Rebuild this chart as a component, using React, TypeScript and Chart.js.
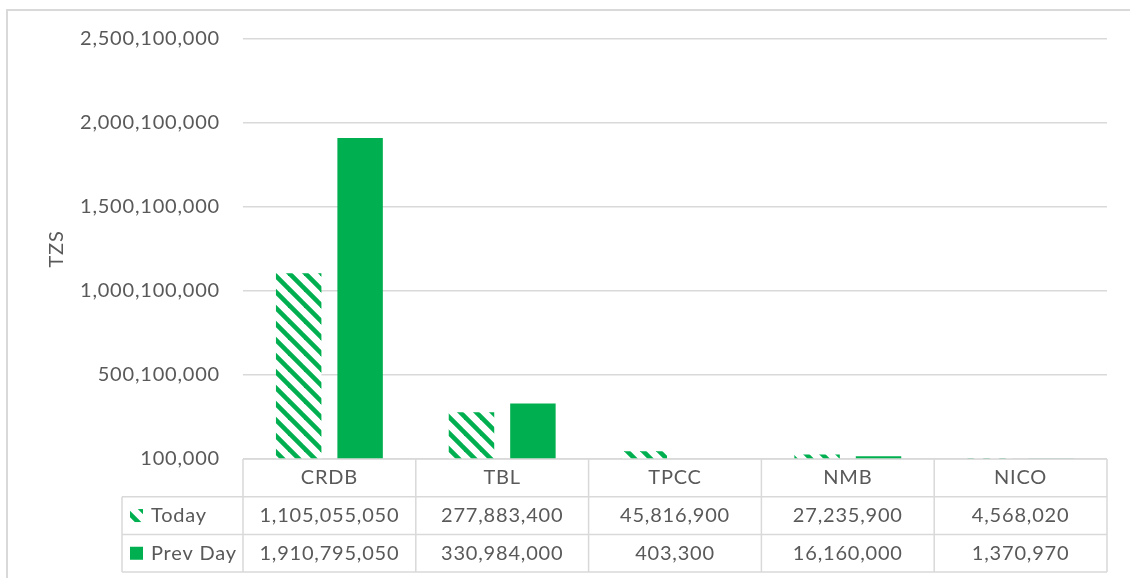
import React, { useEffect, useRef } from "react";
import { Chart, registerables } from "chart.js";

Chart.register(...registerables);

const categories = ["CRDB", "TBL", "TPCC", "NMB", "NICO"];
const seriesLabels = ["Today", "Prev Day"];
const todayValues = [1105055050, 277883400, 45816900, 27235900, 4568020];
const prevDayValues = [1910795050, 330984000, 403300, 16160000, 1370970];
const yTickValues = [100000, 500100000, 1000100000, 1500100000, 2000100000, 2500100000];

const GREEN = "#00B050";
const TEXT = "#595959";
const LINE = "#d9d9d9";
const FONT_FAMILY = "Lato, 'Open Sans', sans-serif";
const FONT_SIZE = 20;
const LETTER_SPACING = "0.8px";

function fmt(v: number) {
  return v.toLocaleString("en-US");
}

function makeHatch(): CanvasPattern | string {
  const c = document.createElement("canvas");
  c.width = 16;
  c.height = 16;
  const g = c.getContext("2d");
  if (!g) return GREEN;
  g.fillStyle = "#ffffff";
  g.fillRect(0, 0, 16, 16);
  g.strokeStyle = GREEN;
  g.lineWidth = 4.6;
  for (const off of [-16, 0, 16]) {
    g.beginPath();
    g.moveTo(off - 4, -4);
    g.lineTo(off + 20, 20);
    g.stroke();
  }
  const p = g.createPattern(c, "repeat");
  return p || GREEN;
}

export default function App() {
  const ref = useRef<HTMLCanvasElement | null>(null);

  useEffect(() => {
    const canvas = ref.current;
    if (!canvas) return;
    const hatch = makeHatch();
    const seriesValues = [todayValues, prevDayValues];
    const seriesFills = [hatch, GREEN];

    const frame = {
      id: "outerFrame",
      beforeDraw(chart: any) {
        const { ctx } = chart;
        ctx.save();
        ctx.fillStyle = "#ffffff";
        ctx.fillRect(0, 0, chart.width, chart.height);
        ctx.strokeStyle = LINE;
        ctx.lineWidth = 2;
        ctx.strokeRect(7, 10, chart.width + 20, chart.height + 40);
        ctx.restore();
        (ctx as any).letterSpacing = LETTER_SPACING;
      },
    };

    const dataTable = {
      id: "dataTable",
      afterDraw(chart: any) {
        const { ctx, chartArea } = chart;
        const n = categories.length;
        const colW = (chartArea.right - chartArea.left) / n;
        const top = chartArea.bottom;
        const rowH = 37.7;
        const legendLeft = 122;
        const r1 = top + rowH;
        const r2 = top + rowH * 2;
        const r3 = top + rowH * 3;
        ctx.save();
        ctx.strokeStyle = LINE;
        ctx.lineWidth = 1.5;
        ctx.beginPath();
        ctx.moveTo(chartArea.left, top);
        ctx.lineTo(chartArea.right, top);
        for (const y of [r1, r2, r3]) {
          ctx.moveTo(legendLeft, y);
          ctx.lineTo(chartArea.right, y);
        }
        ctx.moveTo(legendLeft, r1);
        ctx.lineTo(legendLeft, r3);
        for (let i = 0; i <= n; i++) {
          const x = chartArea.left + i * colW;
          ctx.moveTo(x, top);
          ctx.lineTo(x, r3);
        }
        ctx.stroke();

        (ctx as any).letterSpacing = LETTER_SPACING;
        ctx.fillStyle = TEXT;
        ctx.font = `${FONT_SIZE}px ${FONT_FAMILY}`;
        ctx.textAlign = "center";
        ctx.textBaseline = "middle";
        const xs = chart.scales.x;
        categories.forEach((cat, i) => {
          const cx = xs.getPixelForValue(i);
          ctx.fillText(cat, cx, top + rowH / 2);
          ctx.fillText(fmt(todayValues[i]), cx, r1 + rowH / 2);
          ctx.fillText(fmt(prevDayValues[i]), cx, r2 + rowH / 2);
        });
        seriesLabels.forEach((lab, k) => {
          const cy = r1 + rowH * k + rowH / 2;
          ctx.fillStyle = seriesFills[k] as any;
          ctx.fillRect(legendLeft + 8, cy - 6.5, 13, 13);
          ctx.fillStyle = TEXT;
          ctx.textAlign = "left";
          ctx.fillText(lab, legendLeft + 29, cy);
        });
        ctx.restore();
      },
    };

    const chart = new Chart(canvas, {
      type: "bar",
      data: {
        labels: categories,
        datasets: seriesLabels.map((lab, k) => ({
          label: lab,
          data: seriesValues[k],
          backgroundColor: seriesFills[k] as any,
          borderWidth: 0,
          categoryPercentage: 0.711,
          barPercentage: 0.74,
        })),
      },
      options: {
        responsive: false,
        animation: false,
        layout: { padding: { left: 0, right: 23, top: 39, bottom: 119 } },
        plugins: {
          legend: { display: false },
          tooltip: { enabled: false },
          title: { display: false },
        },
        scales: {
          x: {
            display: false,
          },
          y: {
            min: 100000,
            max: 2500100000,
            afterFit: (s: any) => {
              s.width = 243;
            },
            afterBuildTicks: (s: any) => {
              s.ticks = yTickValues.map((v) => ({ value: v }));
            },
            border: { display: false },
            grid: { color: LINE, lineWidth: 1.5, drawTicks: false },
            ticks: {
              padding: 23,
              color: TEXT,
              font: { family: FONT_FAMILY, size: FONT_SIZE },
              callback: (v: any) => fmt(Number(v)),
            },
            title: {
              display: true,
              text: "TZS",
              color: TEXT,
              font: { family: FONT_FAMILY, size: FONT_SIZE },
              padding: { top: 45, bottom: 0 },
            },
          },
        },
      },
      plugins: [frame, dataTable],
    });

    return () => chart.destroy();
  }, []);

  return (
    <div style={{ position: "fixed", left: 0, top: 0, width: 1130, height: 578, background: "#fff" }}>
      <canvas ref={ref} width={1130} height={578} style={{ display: "block" }} />
    </div>
  );
}
